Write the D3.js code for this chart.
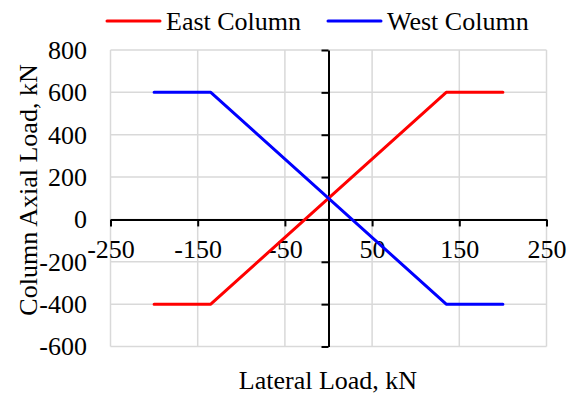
<!DOCTYPE html>
<html>
<head>
<meta charset="utf-8">
<script src="https://cdn.jsdelivr.net/npm/d3@7"></script>
<style>
  body { margin: 0; background: #fff; }
  svg { display: block; font-family: "Liberation Serif", "Times New Roman", serif; }
</style>
</head>
<body>
<svg id="chart" width="567" height="394"></svg>
<script>
const lateralLoad = [-200, -135, 135, 200];
const eastAxial = [-400, -400, 600, 600];
const westAxial = [600, 600, -400, -400];

const xTicks = [-250, -150, -50, 50, 150, 250];
const yTicks = [-600, -400, -200, 0, 200, 400, 600, 800];

const seriesList = [
  { name: 'East Column', color: '#ff0000', values: eastAxial },
  { name: 'West Column', color: '#0000ff', values: westAxial }
];

const svg = d3.select('#chart');

const xScale = d3.scaleLinear().domain([-250, 250]).range([110.5, 546.5]);
const yScale = d3.scaleLinear().domain([-600, 800]).range([346.5, 50]);

// plain hyphen minus, like the original
const fmt = (d) => String(d);

// gridlines
const grid = svg.append('g').attr('class', 'grid');
grid.selectAll('.vgrid')
  .data(xTicks)
  .enter()
  .append('line')
  .attr('x1', (d) => xScale(d))
  .attr('x2', (d) => xScale(d))
  .attr('y1', yScale(800))
  .attr('y2', yScale(-600))
  .attr('stroke', '#d9d9d9')
  .attr('stroke-width', 1.5);
grid.selectAll('.hgrid')
  .data(yTicks)
  .enter()
  .append('line')
  .attr('x1', xScale(-250))
  .attr('x2', xScale(250))
  .attr('y1', (d) => yScale(d))
  .attr('y2', (d) => yScale(d))
  .attr('stroke', '#d9d9d9')
  .attr('stroke-width', 1.5);

// x axis through y = 0
const xAxisG = svg.append('g')
  .attr('transform', `translate(0,${yScale(0)})`)
  .call(d3.axisBottom(xScale).tickValues(xTicks).tickFormat(fmt)
    .tickSize(7).tickSizeOuter(0).tickPadding(13.5));
xAxisG.select('.domain').attr('stroke', '#000').attr('stroke-width', 2);
xAxisG.selectAll('.tick line').attr('stroke', '#000').attr('stroke-width', 2);
xAxisG.selectAll('.tick text')
  .attr('font-size', 26)
  .attr('font-family', '"Liberation Serif", "Times New Roman", serif')
  .attr('fill', '#000');

// y axis through x = 0 (ticks only)
const yAxisG = svg.append('g')
  .attr('transform', `translate(${xScale(0)},0)`)
  .call(d3.axisLeft(yScale).tickValues(yTicks).tickSize(7).tickSizeOuter(0).tickFormat(''));
yAxisG.select('.domain').attr('stroke', '#000').attr('stroke-width', 2);
yAxisG.selectAll('.tick line').attr('stroke', '#000').attr('stroke-width', 2);

// y tick labels at the low side
const yLabelG = svg.append('g')
  .attr('transform', 'translate(87,0)')
  .call(d3.axisLeft(yScale).tickValues(yTicks).tickFormat(fmt).tickSize(0).tickPadding(0));
yLabelG.select('.domain').remove();
yLabelG.selectAll('.tick text')
  .attr('font-size', 26)
  .attr('font-family', '"Liberation Serif", "Times New Roman", serif')
  .attr('fill', '#000');

// series
const line = d3.line()
  .x((d, i) => xScale(lateralLoad[i]))
  .y((d) => yScale(d));

svg.selectAll('.series')
  .data(seriesList)
  .enter()
  .append('path')
  .attr('class', 'series')
  .attr('d', (d) => line(d.values))
  .attr('fill', 'none')
  .attr('stroke', (d) => d.color)
  .attr('stroke-width', 3)
  .attr('stroke-linecap', 'round')
  .attr('stroke-linejoin', 'round');

// axis titles
svg.append('text')
  .attr('x', 328)
  .attr('y', 389)
  .attr('text-anchor', 'middle')
  .attr('font-size', 26)
  .text('Lateral Load, kN');

svg.append('text')
  .attr('transform', 'translate(37,190) rotate(-90)')
  .attr('text-anchor', 'middle')
  .attr('font-size', 26)
  .text('Column Axial Load, kN');

// legend
const legendX = [107, 328];
const legend = svg.selectAll('.legend')
  .data(seriesList)
  .enter()
  .append('g')
  .attr('class', 'legend')
  .attr('transform', (d, i) => `translate(${legendX[i]},0)`);
legend.append('line')
  .attr('x1', 0)
  .attr('x2', 53)
  .attr('y1', 21)
  .attr('y2', 21)
  .attr('stroke', (d) => d.color)
  .attr('stroke-width', 3)
  .attr('stroke-linecap', 'round');
legend.append('text')
  .attr('x', 59)
  .attr('y', 30)
  .attr('font-size', 26)
  .text((d) => d.name);
</script>
</body>
</html>
